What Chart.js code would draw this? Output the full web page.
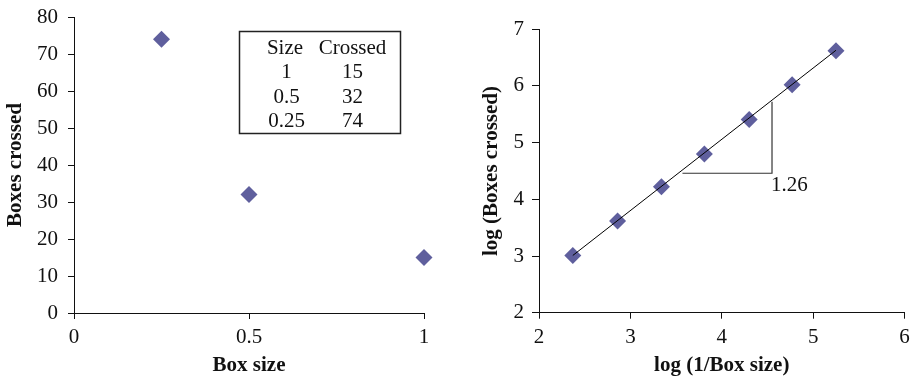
<!DOCTYPE html>
<html>
<head>
<meta charset="utf-8">
<script src="https://cdn.jsdelivr.net/npm/chart.js@4.4.0/dist/chart.umd.min.js"></script>
<style>
  html, body { margin: 0; padding: 0; background: #fff; }
  #wrap { position: relative; width: 913px; height: 377px; }
  canvas { position: absolute; top: 0; }
  #left { left: 0; }
  #right { left: 456px; }
</style>
</head>
<body>
<div id="wrap">
  <canvas id="left" width="456" height="377"></canvas>
  <canvas id="right" width="457" height="377"></canvas>
</div>
<script>
// donnees graphe de gauche
let boxSizes = [1, 0.5, 0.25];
let boxesCrossed = [15, 32, 74];
let tableHeader = ["Size", "Crossed"];

// donnees graphe de droite (log-log)
let logInvSize = [2.37, 2.86, 3.34, 3.81, 4.30, 4.77, 5.25];
let logCrossed = [3.01, 3.62, 4.22, 4.80, 5.41, 6.02, 6.62];
let fitX = [2.37, 5.25];
let fitY = [3.01, 6.63];
let triX = [3.57, 4.55, 4.55];
let triY = [4.46, 4.46, 5.72];
let slopeLabel = "1.26";

const markerColor = "#5f5f9d";
const serif = "'Liberation Serif', 'Times New Roman', serif";
const tickFont = { family: serif, size: 21 };
const titleFont = { family: serif, size: 21, weight: "bold" };
const xTitleFont = { family: serif, size: 21, weight: "bold", lineHeight: 1.1 };

function toPoints(xs, ys) {
    let pts = [];
    for (let i = 0; i < xs.length; i++) {
        pts.push({ x: xs[i], y: ys[i] });
    }
    return pts;
}

// pas de padding automatique, on fixe la zone du graphe nous-memes
function noPad(s) {
    s.paddingTop = 0; s.paddingBottom = 0; s.paddingLeft = 0; s.paddingRight = 0;
}

function axisX(min, max, step, title, axisHeight) {
    return {
        type: "linear", min: min, max: max,
        afterFit: (s) => { s.height = axisHeight; noPad(s); },
        border: { display: true, color: "#111", width: 1 },
        grid: { drawOnChartArea: false, drawTicks: true, tickLength: 6, color: "#111" },
        ticks: { stepSize: step, color: "#111", font: tickFont, padding: 6, maxRotation: 0,
                 callback: (v) => String(v) },
        title: { display: true, text: title, color: "#111", font: xTitleFont, padding: { top: 0, bottom: 0 } }
    };
}

function axisY(min, max, step, title, axisWidth, tickLen, pad, titlePad) {
    return {
        type: "linear", min: min, max: max,
        afterFit: (s) => { s.width = axisWidth; noPad(s); },
        border: { display: true, color: "#111", width: 1 },
        grid: { drawOnChartArea: false, drawTicks: true, tickLength: tickLen, color: "#111" },
        ticks: { stepSize: step, color: "#111", font: tickFont, padding: pad,
                 callback: (v) => String(v) },
        title: { display: true, text: title, color: "#111", font: titleFont, padding: { top: titlePad, bottom: 0 } }
    };
}

// tableau dans le graphe de gauche
const tablePlugin = {
    id: "sizeTable",
    afterDraw(chart) {
        const ctx = chart.ctx;
        ctx.save();
        ctx.strokeStyle = "#222";
        ctx.lineWidth = 1.5;
        ctx.strokeRect(239.5, 31.5, 161, 102);
        ctx.fillStyle = "#111";
        ctx.font = "21px " + serif;
        ctx.textAlign = "center";
        ctx.textBaseline = "alphabetic";
        ctx.fillText(tableHeader[0], 285, 53.5);
        ctx.fillText(tableHeader[1], 352.5, 53.5);
        for (let i = 0; i < boxSizes.length; i++) {
            let y = 78 + i * 24.6;
            ctx.fillText(String(boxSizes[i]), 286.5, y);
            ctx.fillText(String(boxesCrossed[i]), 352.5, y);
        }
        ctx.restore();
    }
};

// label de pente
const slopePlugin = {
    id: "slopeLabel",
    afterDraw(chart) {
        const ctx = chart.ctx;
        const xs = chart.scales.x, ys = chart.scales.y;
        const px = xs.getPixelForValue(triX[1]);
        const py = ys.getPixelForValue(triY[1]);
        ctx.save();
        ctx.fillStyle = "#111";
        ctx.font = "21px " + serif;
        ctx.textAlign = "left";
        ctx.textBaseline = "alphabetic";
        ctx.fillText(slopeLabel, px - 1, py + 18);
        ctx.restore();
    }
};

let chart1 = new Chart(document.getElementById("left").getContext("2d"), {
    type: "scatter",
    data: {
        datasets: [{
            data: toPoints(boxSizes, boxesCrossed),
            pointStyle: "rectRot", pointRadius: 8.5, pointBorderWidth: 0, clip: false,
            backgroundColor: markerColor, borderColor: markerColor
        }]
    },
    options: {
        responsive: false, animation: false, events: [],
        layout: { padding: { left: 0, top: 17, right: 32, bottom: 0 } },
        plugins: { legend: { display: false }, tooltip: { enabled: false } },
        scales: {
            x: axisX(0, 1, 0.5, "Box size", 64),
            y: axisY(0, 80, 10, "Boxes crossed", 74, 6, 10, 3)
        }
    },
    plugins: [tablePlugin]
});

let chart2 = new Chart(document.getElementById("right").getContext("2d"), {
    type: "scatter",
    data: {
        datasets: [{
            data: toPoints(fitX, fitY),
            showLine: true, borderColor: "#000", borderWidth: 1, pointRadius: 0
        }, {
            data: toPoints(triX, triY),
            showLine: true, borderColor: "#333", borderWidth: 1.2, pointRadius: 0
        }, {
            data: toPoints(logInvSize, logCrossed),
            pointStyle: "rectRot", pointRadius: 8.5, pointBorderWidth: 0, clip: false,
            backgroundColor: markerColor, borderColor: markerColor
        }]
    },
    options: {
        responsive: false, animation: false, events: [],
        layout: { padding: { left: 0, top: 29.3, right: 7.7, bottom: 0 } },
        plugins: { legend: { display: false }, tooltip: { enabled: false } },
        scales: {
            x: axisX(2, 6, 1, "log (1/Box size)", 64.3),
            y: axisY(2, 7, 1, "log (Boxes crossed)", 83, 7, 8, 23)
        }
    },
    plugins: [slopePlugin]
});
</script>
</body>
</html>
